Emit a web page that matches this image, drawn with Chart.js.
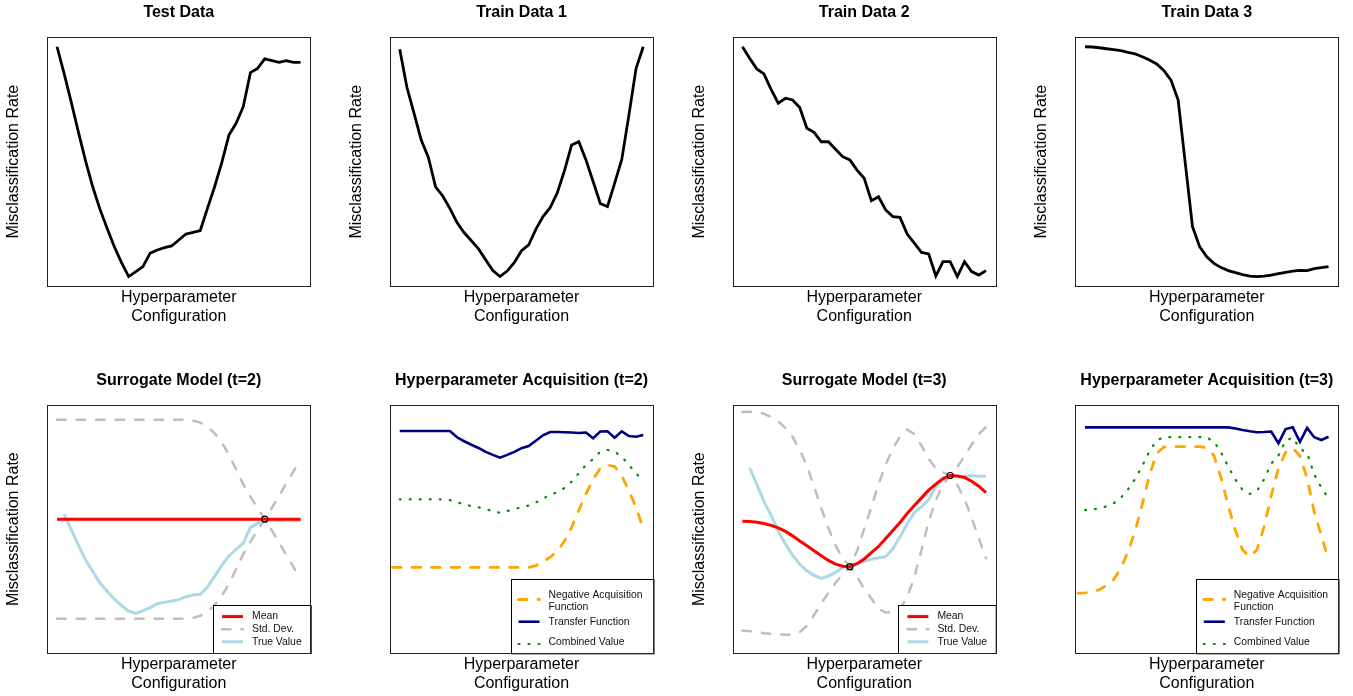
<!DOCTYPE html>
<html>
<head>
<meta charset="utf-8">
<script src="https://cdn.jsdelivr.net/npm/chart.js@4.4.1/dist/chart.umd.min.js"></script>
<style>
html,body{margin:0;padding:0;background:#fff;overflow:hidden;width:1353px;height:696px;position:relative;}
canvas{position:absolute;}
</style>
</head>
<body>
<script>
// ---------- DATA ----------
// hyperparameter configurations (index on the x axis)
const configurations = [0,1,2,3,4,5,6,7,8,9,10,11,12,13,14,15,16,17,18,19,20,21,22,23,24,25,26,27,28,29,30,31,32,33,34];

const panelTitles = ['Test Data','Train Data 1','Train Data 2','Train Data 3',
  'Surrogate Model (t=2)','Hyperparameter Acquisition (t=2)','Surrogate Model (t=3)','Hyperparameter Acquisition (t=3)'];
const yAxisLabel = 'Misclassification Rate';
const xAxisLabel = ['Hyperparameter','Configuration'];

const testData = [96.2,85.3,73.7,61.7,50.1,39.7,30.8,23.1,15.8,9.4,3.8,5.8,7.8,13.2,14.5,15.4,16.1,18.5,20.9,21.6,22.3,31.2,39.9,49.6,60.7,65.4,72.1,85.8,87.5,91.3,90.6,89.9,90.6,89.9,89.9];
const trainData1 = [95.2,79.9,69.4,58.7,51.7,39.9,36.2,31.2,25.5,21.4,18.2,14.9,10.5,6.2,3.8,6.0,9.5,14.2,16.5,22.8,27.9,31.5,37.5,46.4,56.7,58.0,50.7,42.0,33.2,31.9,41.3,50.9,68.8,87.5,96.2];
const trainData2 = [96.2,91.6,87.3,85.3,79.1,73.5,75.5,74.8,71.8,63.4,61.8,58.0,58.0,55.0,52.0,50.7,46.6,43.3,34.3,35.9,30.6,27.9,27.6,20.9,17.2,13.5,12.9,4.0,9.8,9.8,3.8,9.8,5.8,4.4,6.2];
const trainData3 = [96.2,96.1,95.8,95.4,95.0,94.6,93.9,93.3,92.2,90.9,89.3,86.7,82.8,74.8,49.3,23.9,15.8,11.7,9.1,7.4,6.2,5.4,4.6,4.0,3.8,4.0,4.4,5.0,5.5,6.0,6.3,6.2,7.0,7.4,7.8];

// surrogate model t=2
const mean2 = [54.0,54.0,54.0,54.0,54.0,54.0,54.0,54.0,54.0,54.0,54.0,54.0,54.0,54.0,54.0,54.0,54.0,54.0,54.0,54.0,54.0,54.0,54.0,54.0,54.0,54.0,54.0,54.0,54.0,54.0,54.0,54.0,54.0,54.0,54.0];
const sd2 = [40.1,40.1,40.1,40.1,40.1,40.1,40.1,40.1,40.1,40.1,40.1,40.1,40.1,40.1,40.1,40.1,40.1,40.1,40.0,39.7,38.9,37.3,34.6,30.9,26.0,20.1,14.1,9.1,4.4,0,4.6,9.4,14.4,19.2,24.2];
const trueValue2 = [null,56.0,49.7,43.5,37.6,32.9,28.3,25.0,21.9,19.2,17.0,16.1,17.2,18.4,20.0,20.5,21.1,21.6,22.8,23.5,23.8,26.7,31.0,35.4,39.2,41.9,44.4,50.7,52.3,53.2,53.7,53.4,53.6,53.6,53.6];
const observed2 = [29];

// acquisition t=2 (acquisition curve starts one configuration to the left)
const acqStart = -1;
const negAcq2 = [34.6,34.6,34.6,34.6,34.6,34.6,34.6,34.6,34.6,34.6,34.6,34.6,34.6,34.6,34.6,34.6,34.6,34.6,34.6,34.6,35.3,36.8,38.7,41.1,45.2,50.7,57.6,64.3,70.1,74.5,75.8,75.2,71.5,65.5,58.7,50.2];
const transfer2 = [89.5,89.5,89.5,89.5,89.5,89.5,89.5,89.5,87.0,85.4,84.0,82.7,81.1,79.9,78.8,79.9,81.1,82.6,83.5,85.6,87.8,89.1,89.1,89.0,88.9,88.7,88.9,86.6,89.3,89.4,86.8,89.4,87.5,87.2,87.9];
const combined2 = [62.0,62.0,62.0,62.0,62.0,62.0,62.0,61.7,60.8,60.0,59.3,58.8,58.0,57.3,56.6,57.3,58.1,58.8,59.5,60.7,62.3,63.9,64.8,66.6,69.1,72.5,75.8,78.3,81.2,81.9,81.2,79.2,75.8,72.5,69.1];

// surrogate model t=3
const mean3 = [53.2,53.1,52.8,52.3,51.5,50.5,49.1,47.3,45.2,43.3,41.3,39.3,37.4,35.9,35.1,34.9,36.1,38.0,40.5,43.0,46.2,49.5,52.7,56.3,59.5,62.6,65.7,68.1,70.4,71.6,71.4,70.8,69.3,67.3,64.7];
const sd3 = [44.0,44.2,44.2,44.2,43.7,42.9,41.6,39.9,36.7,32.2,25.9,19.2,13.0,7.5,3.1,0,5.1,12.1,18.4,25.1,29.8,32.8,34.7,33.8,28.8,21.0,12.6,6.4,2.5,0,3.6,8.6,14.7,21.0,26.4];
const trueValue3 = [null,74.7,68.1,61.1,55.6,49.1,44.0,39.5,35.9,33.2,31.4,30.2,31.1,32.6,34.5,35.3,36.2,37.0,37.9,38.5,38.9,42.1,46.9,52.1,56.7,59.1,61.9,67.0,69.8,71.3,71.2,71.3,71.6,71.3,71.3];
const observed3 = [15,29];

// acquisition t=3
const negAcq3 = [24.2,24.3,24.8,25.6,27.4,29.8,34.2,40.9,49.3,60.1,71.8,80.5,83.0,83.2,83.2,83.2,83.2,83.2,82.7,79.6,70.6,59.3,49.4,41.6,38.9,41.7,51.0,63.5,74.5,80.9,82.7,79.5,70.5,57.0,47.4,37.6];
const transfer3 = [91.0,91.0,91.0,91.0,91.0,91.0,91.0,91.0,91.0,91.0,91.0,91.0,91.0,91.0,91.0,91.0,91.0,91.0,91.0,91.0,91.0,90.5,89.9,89.4,89.0,89.1,89.3,84.6,90.3,91.0,85.2,90.8,87.0,85.9,87.2];
const combined3 = [57.7,57.9,58.3,59.2,60.4,62.6,66.0,70.2,75.6,81.4,85.8,87.0,87.1,87.1,87.1,87.1,87.1,86.9,85.3,80.8,75.2,70.0,65.8,64.2,65.4,70.1,76.4,79.6,85.6,86.9,82.4,80.7,72.0,66.7,62.4];

// ---------- HELPERS ----------
const FONT = "'Liberation Sans', Arial, Helvetica, sans-serif";
Chart.defaults.font.family = FONT;
Chart.defaults.color = '#000';

function pts(values, start) {
  start = start || 0;
  return values.map((v, i) => ({x: configurations[0] + i + start, y: v}));
}
function band(mean, sd, sign) {
  return mean.map((m, i) => ({x: configurations[i], y: m + sign * sd[i]}));
}
function obsPts(idx, mean) {
  return idx.map(i => ({x: configurations[i], y: mean[i]}));
}

const STY = {
  black: {borderColor:'#000', borderWidth:2.8},
  mean: {borderColor:'#ff0000', borderWidth:3},
  sd: {borderColor:'#bebebe', borderWidth:2.5, borderDash:[8.5,11], borderCapStyle:'round'},
  truev: {borderColor:'#add8e6', borderWidth:3},
  acq: {borderColor:'#ffa500', borderWidth:2.8, borderDash:[8.5,11], borderCapStyle:'round'},
  transfer: {borderColor:'#000080', borderWidth:2.6},
  combined: {borderColor:'#008b00', borderWidth:2.2, borderDash:[1,9], borderCapStyle:'round'}
};
function line(label, data, style, extra) {
  return Object.assign({type:'line', label, data, pointRadius:0, tension:0, fill:false, spanGaps:false}, style, extra || {});
}

const LEG_SUR = {w:97.7, h:48, s0:9.4, s1:30.4, tx:39.4,
  items:[{ds:1, text:['Mean'], ty:11.3, sy:11.3},{ds:4, text:['Std. Dev.'], ty:24, sy:24},{ds:2, text:['True Value'], ty:36.4, sy:36.4}]};
const LEG_ACQ = {w:142.5, h:74.3, s0:8, s1:29, tx:38,
  items:[{ds:2, text:['Negative Acquisition','Function'], ty:15.7, sy:20.5},{ds:0, text:['Transfer Function'], ty:42.7, sy:42.7},{ds:1, text:['Combined Value'], ty:63.3, sy:65}]};

function framePlugin(legend) {
  return {
    id: 'frameLegend',
    afterDatasetsDraw(chart) {
      const ctx = chart.ctx, a = chart.chartArea;
      ctx.save();
      if (legend) {
        const x0 = a.right - legend.w, y0 = a.bottom - legend.h;
        ctx.fillStyle = '#fff';
        ctx.fillRect(x0, y0, legend.w, legend.h);
        ctx.strokeStyle = '#000'; ctx.lineWidth = 1;
        ctx.strokeRect(Math.round(x0) + 0.5, Math.round(y0) + 0.5, legend.w, legend.h);
        legend.items.forEach(it => {
          const ds = chart.data.datasets[it.ds];
          ctx.save();
          ctx.strokeStyle = ds.borderColor; ctx.lineWidth = ds.borderWidth;
          ctx.setLineDash(ds.borderDash || []); ctx.lineCap = ds.borderCapStyle || 'butt';
          ctx.beginPath(); ctx.moveTo(x0 + legend.s0, y0 + it.sy); ctx.lineTo(x0 + legend.s1, y0 + it.sy); ctx.stroke();
          ctx.restore();
          ctx.fillStyle = '#111'; ctx.font = '10.4px ' + FONT; ctx.textBaseline = 'middle'; ctx.textAlign = 'left';
          it.text.forEach((t, k) => ctx.fillText(t, x0 + legend.tx, y0 + it.ty + k * 12.6));
        });
      }
      ctx.strokeStyle = '#222'; ctx.lineWidth = 1;
      const l = Math.round(a.left) + 0.5, t = Math.round(a.top) + 0.5;
      ctx.strokeRect(l, t, Math.round(a.right) - Math.round(a.left), Math.round(a.bottom) - Math.round(a.top));
      ctx.restore();
    }
  };
}

const XMIN = configurations[0] - 0.04 * (configurations[configurations.length-1] - configurations[0]);
const XMAX = configurations[configurations.length-1] + 0.04 * (configurations[configurations.length-1] - configurations[0]);

function makePanel(p) {
  const cl = Math.floor(p.L) - 48, ct = Math.floor(p.T) - 40;
  const offL = p.L - cl, offT = p.T - ct;
  const CW = Math.ceil(offL + p.W + 48), CH = Math.ceil(offT + p.H + 46);
  const yLH = 18.4, yPB = p.ylab ? 33.5 - yLH / 2 : 0;
  const yW = p.ylab ? yLH + yPB : 0;
  const tLH = 19.2;
  const tPT = offT - 24.3 - tLH / 2, tPB = offT - tPT - tLH;
  const xPT = 11.7 - yLH / 2, xPB = 2;
  const xH = 2 * yLH + xPT + xPB;
  const padBottom = CH - offT - p.H - xH;
  const cv = document.createElement('canvas');
  cv.width = CW; cv.height = CH;
  cv.style.left = cl + 'px'; cv.style.top = ct + 'px';
  cv.style.width = CW + 'px'; cv.style.height = CH + 'px';
  document.body.appendChild(cv);
  new Chart(cv.getContext('2d'), {
    type: 'line',
    data: {datasets: p.datasets},
    options: {
      responsive: false, animation: false, devicePixelRatio: 1,
      layout: {padding: {left: offL - yW, right: CW - offL - p.W, top: 0, bottom: padBottom}},
      plugins: {
        legend: {display: false}, tooltip: {enabled: false},
        title: {display: true, text: p.title, fullSize: false, color: '#000',
          font: {size: 16, weight: 'bold', lineHeight: 1.2}, padding: {top: tPT, bottom: tPB}}
      },
      scales: {
        x: {type: 'linear', min: XMIN, max: XMAX, ticks: {display: false}, grid: {display: false, drawTicks: false}, border: {display: false},
          title: {display: true, text: xAxisLabel, color: '#000', font: {size: 16, lineHeight: 1.15}, padding: {top: xPT, bottom: xPB}}},
        y: {type: 'linear', min: 0, max: 100, display: p.ylab, ticks: {display: false}, grid: {display: false, drawTicks: false}, border: {display: false},
          title: {display: p.ylab, text: yAxisLabel, color: '#000', font: {size: 16, lineHeight: 1.15}, padding: {top: 0, bottom: yPB}}}
      }
    },
    plugins: [framePlugin(p.legend)]
  });
}

function surrogate(mean, sd, trueV, obs) {
  return [
    line('Observed', obsPts(obs, mean), {borderColor:'#000', borderWidth:1}, {showLine:false, pointRadius:3, pointBorderWidth:1.2, pointBorderColor:'#000', pointBackgroundColor:'rgba(0,0,0,0)'}),
    line('Mean', pts(mean), STY.mean),
    line('True Value', pts(trueV), STY.truev),
    line('Std. Dev. upper', band(mean, sd, 1), STY.sd),
    line('Std. Dev.', band(mean, sd, -1), STY.sd)
  ];
}
function acquisition(transfer, combined, acq) {
  return [
    line('Transfer Function', pts(transfer), STY.transfer),
    line('Combined Value', pts(combined), STY.combined),
    line('Negative Acquisition Function', pts(acq, acqStart), STY.acq)
  ];
}

const TOP = {T: 37.3, H: 248.7}, BOT = {T: 405, H: 248.3};
const lefts = [47.3, 390, 732.7, 1075.3];

const panels = [
  Object.assign({L: lefts[0], W: 263, ylab: true, title: panelTitles[0], datasets: [line('Test Data', pts(testData), STY.black)]}, TOP),
  Object.assign({L: lefts[1], W: 263, ylab: true, title: panelTitles[1], datasets: [line('Train Data 1', pts(trainData1), STY.black)]}, TOP),
  Object.assign({L: lefts[2], W: 263, ylab: true, title: panelTitles[2], datasets: [line('Train Data 2', pts(trainData2), STY.black)]}, TOP),
  Object.assign({L: lefts[3], W: 263, ylab: true, title: panelTitles[3], datasets: [line('Train Data 3', pts(trainData3), STY.black)]}, TOP),
  Object.assign({L: lefts[0], W: 263, ylab: true, title: panelTitles[4], legend: LEG_SUR, datasets: surrogate(mean2, sd2, trueValue2, observed2)}, BOT),
  Object.assign({L: lefts[1], W: 263, ylab: false, title: panelTitles[5], legend: LEG_ACQ, datasets: acquisition(transfer2, combined2, negAcq2)}, BOT),
  Object.assign({L: lefts[2], W: 263, ylab: true, title: panelTitles[6], legend: LEG_SUR, datasets: surrogate(mean3, sd3, trueValue3, observed3)}, BOT),
  Object.assign({L: lefts[3], W: 263, ylab: false, title: panelTitles[7], legend: LEG_ACQ, datasets: acquisition(transfer3, combined3, negAcq3)}, BOT)
];
panels.forEach(makePanel);
</script>
</body>
</html>
